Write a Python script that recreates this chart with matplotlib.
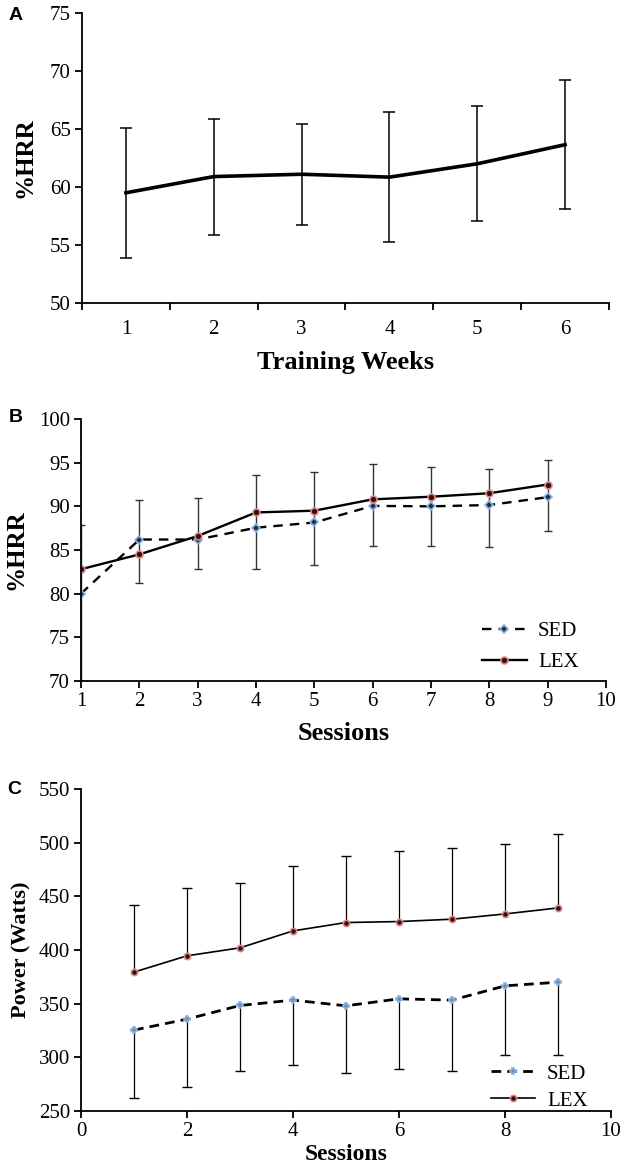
import numpy as np
import matplotlib
matplotlib.use("Agg")
import matplotlib.pyplot as plt

# panel A: weekly %HRR
weeks = [1, 2, 3, 4, 5, 6]
hrr_week = [59.5, 60.9, 61.1, 60.85, 62.0, 63.65]
hrr_week_sd = [5.6, 5.0, 4.35, 5.6, 4.95, 5.55]

# panel B: %HRR per session
sessions = [1, 2, 3, 4, 5, 6, 7, 8, 9]
hrr_sed = [80.0, 86.2, 86.2, 87.55, 88.15, 90.05, 90.0, 90.15, 91.05]
hrr_lex = [82.8, 84.5, 86.6, 89.3, 89.5, 90.8, 91.1, 91.5, 92.5]
hrr_err_hi = [87.9, 90.75, 90.9, 93.55, 93.95, 94.9, 94.5, 94.25, 95.35]
hrr_err_lo = [69.5, 81.25, 82.8, 82.8, 83.25, 85.5, 85.45, 85.3, 87.2]

# panel C: power per session
power_sed = [325.4, 335.6, 348.3, 353.3, 348.0, 354.5, 353.3, 366.6, 370.0]
power_lex = [379.4, 394.6, 402.0, 417.8, 425.6, 426.5, 428.7, 433.6, 439.2]
power_sed_sd = [63.0, 63.0, 61.1, 60.2, 62.6, 65.1, 66.1, 64.8, 68.2]
power_lex_sd = [62.6, 62.9, 60.8, 60.2, 62.4, 65.8, 66.1, 65.2, 68.9]

serif = "Liberation Serif"
plt.rcParams['font.family'] = serif
plt.rcParams['font.size'] = 15

fig = plt.figure(figsize=(6.22, 11.67), dpi=100)
W, H = 622.0, 1167.0

def box(l, r, t, b):
    return [l / W, 1 - b / H, (r - l) / W, (b - t) / H]

def style(ax):
    for s in ['top', 'right']:
        ax.spines[s].set_visible(False)
    for s in ['left', 'bottom']:
        ax.spines[s].set_linewidth(1.3)
    ax.tick_params(direction='out', length=5, width=1.3, labelsize=15, pad=3)

sed_kw = dict(color='black', ls=(0, (4, 3)), lw=1.7, marker='D', ms=4.5,
              mfc='#1c2f4f', mec='#8fb3dd', mew=1.2)
lex_kw = dict(color='black', ls='-', lw=1.7, marker='o', ms=5,
              mfc='#3a0c0c', mec='#d88a8a', mew=1.2)

# ---- A ----
axA = fig.add_axes(box(82, 609, 13, 303))
style(axA)
axA.errorbar(weeks, hrr_week, yerr=hrr_week_sd, color='black', lw=2.6,
             ecolor='black', elinewidth=1.1, capsize=4, capthick=1.1)
axA.set_xlim(0.5, 6.5)
axA.set_ylim(50, 75)
axA.set_yticks(np.arange(50, 76, 5))
axA.set_xticks(np.arange(0.5, 7, 1))
axA.set_xticklabels([])
axA.set_xticks(weeks, minor=True)
axA.set_xticklabels([str(w) for w in weeks], minor=True)
axA.tick_params(axis='x', which='minor', length=0, pad=12, labelsize=15)
axA.set_xlabel('Training Weeks', fontsize=19, fontweight='bold', labelpad=9)
axA.set_ylabel('%HRR', fontsize=18, fontweight='bold', labelpad=10)
fig.text(16 / W, 1 - 15 / H, 'A', family='Liberation Sans', fontweight='bold',
         fontsize=14, ha='center', va='center')

# ---- B ----
axB = fig.add_axes(box(81, 606, 419, 681))
style(axB)
sed = np.array(hrr_sed)
axB.errorbar(sessions, sed, yerr=[sed - np.array(hrr_err_lo), np.array(hrr_err_hi) - sed],
             fmt='none', ecolor='#333333', elinewidth=1.0, capsize=3, capthick=1.0)
axB.plot(sessions, hrr_sed, label='SED', **sed_kw)
axB.plot(sessions, hrr_lex, label='LEX', **lex_kw)
axB.set_xlim(1, 10)
axB.set_ylim(70, 100)
axB.set_xticks(range(1, 11))
axB.set_yticks(np.arange(70, 101, 5))
axB.set_xlabel('Sessions', fontsize=19, fontweight='bold', labelpad=8)
axB.set_ylabel('%HRR', fontsize=18, fontweight='bold', labelpad=8)
axB.legend(loc='upper left', bbox_to_anchor=(0.764, 0.226), frameon=False,
           handlelength=2.15, handletextpad=0.53, labelspacing=0.55,
           borderpad=0, borderaxespad=0, fontsize=15)
fig.text(16 / W, 1 - 417 / H, 'B', family='Liberation Sans', fontweight='bold',
         fontsize=14, ha='center', va='center')

# ---- C ----
axC = fig.add_axes(box(81, 611, 789, 1111))
style(axC)
psed = np.array(power_sed)
plex = np.array(power_lex)
axC.vlines(sessions, plex, plex + np.array(power_lex_sd), color='black', lw=0.9)
axC.plot(sessions, plex + np.array(power_lex_sd), ls='none', marker='_', ms=7,
         mew=1.0, color='black')
axC.vlines(sessions, psed - np.array(power_sed_sd), psed, color='black', lw=0.9)
axC.plot(sessions, psed - np.array(power_sed_sd), ls='none', marker='_', ms=7,
         mew=1.0, color='black')
c_sed_kw = dict(sed_kw, lw=2.0, ls=(0, (3.5, 2.2)), marker='P', ms=4.5)
c_lex_kw = dict(lex_kw, lw=1.2, ms=4.5)
axC.plot(sessions, power_sed, label='SED', **c_sed_kw)
axC.plot(sessions, power_lex, label='LEX', **c_lex_kw)
axC.set_xlim(0, 10)
axC.set_ylim(250, 550)
axC.set_xticks(range(0, 11, 2))
axC.set_yticks(range(250, 551, 50))
axC.set_xlabel('Sessions', fontsize=17, fontweight='bold', labelpad=2)
axC.set_ylabel('Power (Watts)', fontsize=16, fontweight='bold', labelpad=5)
axC.legend(loc='upper left', bbox_to_anchor=(0.774, 0.146), frameon=False,
           handlelength=2.1, handletextpad=0.58, labelspacing=0.36,
           borderpad=0, borderaxespad=0, fontsize=15)
fig.text(14 / W, 1 - 789 / H, 'C', family='Liberation Sans', fontweight='bold',
         fontsize=14, ha='center', va='center')

fig.savefig('out.png', dpi=100)
